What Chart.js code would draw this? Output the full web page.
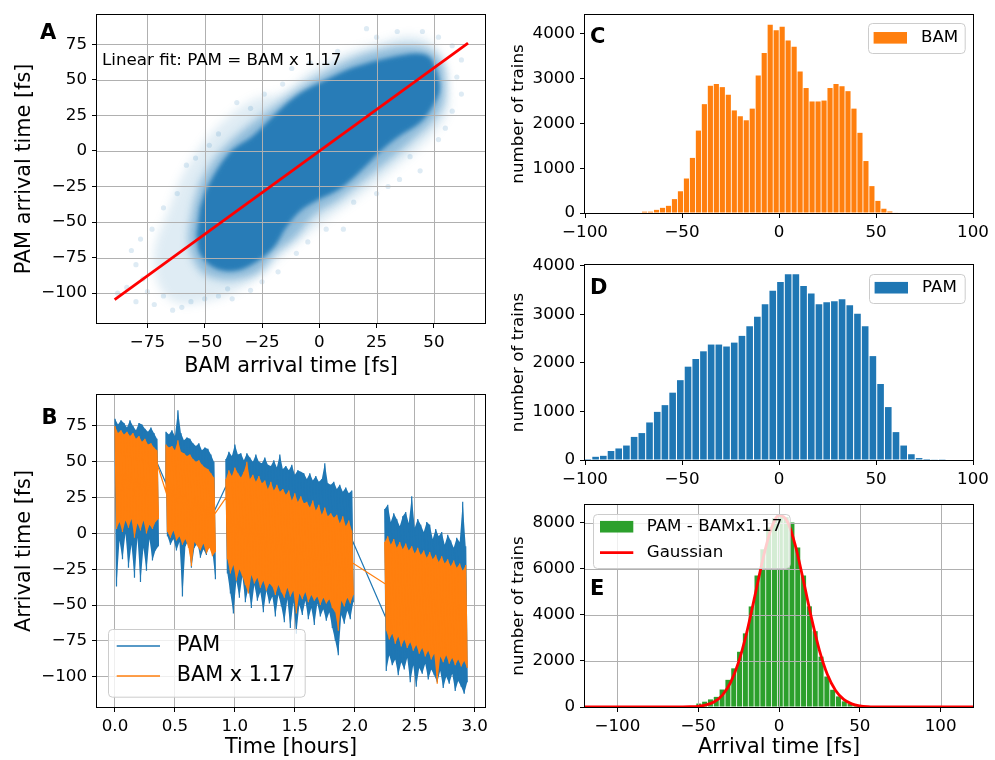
<!DOCTYPE html>
<html>
<head>
<meta charset="utf-8">
<script src="https://cdn.jsdelivr.net/npm/chart.js@4.4.1/dist/chart.umd.min.js"></script>
<style>
  body { margin: 0; background: #fff; width: 995px; height: 760px; position: relative; overflow: hidden; }
  canvas { position: absolute; }
</style>
</head>
<body>
<canvas id="pA" width="495" height="379" style="left:0;top:0"></canvas>
<canvas id="pB" width="495" height="380" style="left:0;top:380px"></canvas>
<canvas id="pC" width="495" height="250" style="left:500px;top:0"></canvas>
<canvas id="pD" width="495" height="240" style="left:500px;top:250px"></canvas>
<canvas id="pE" width="495" height="270" style="left:500px;top:490px"></canvas>
<script>
// --- A: PAM vs BAM scatter (cloud outlines)
const aTicksX = [-75, -50, -25, 0, 25, 50];
const aTicksY = [-100, -75, -50, -25, 0, 25, 50, 75];
const haloX = [-66, -72, -70, -62, -50, -38, -26, -17, -10, 5, 19, 33, 48, 56, 56, 54, 47, 38, 26, 12, -3, -16, -27.5, -39, -49, -58, -62];
const haloY = [-42, -70, -95, -107, -106, -100, -88, -74, -65, -46, -30, -12, 9, 27, 45, 64, 78, 81, 76, 69, 57, 41, 37, 25, 9, -12, -25];
const midX = [-55, -57, -52, -44, -35, -26, -19, -11, -2, 8, 20, 31, 41, 49, 54, 55, 53, 47, 38, 26, 13, 1, -10, -20, -30, -38, -46, -52];
const midY = [-38, -65, -84, -90, -90, -85, -72, -62, -45, -35, -20, -6, 8, 20, 33, 50, 64, 72, 74, 71, 64, 54, 43, 31, 19, 8, -6, -22];
const coreX = [-52, -49, -39, -29, -18.5, -8.5, 3, 12, 20.5, 32, 42.5, 48, 51, 52.5, 49.5, 44, 35, 28, 17.5, 9, 0.5, -8.5, -14.5, -20, -29, -37.5, -46, -52, -53.5];
const coreY = [-40, -26, -1, 10.5, 27, 40.5, 50, 57, 61.5, 66, 68.5, 66, 57, 43, 31.5, 20, 10.5, 1.5, -15, -26.5, -33.5, -42.5, -54, -68, -79.5, -84.5, -82, -72.5, -59];
const strayX = [-88, -84, -80, -77, -75, -72, -68, -64, -60, -56, -50, -44, -40, -80, -82, -78, -73, -68, -62, -58, -54, -48, -44, -36, -30, -24, -16, -12, -4, 8, 20.6, 25, 34, 45, 52, 58, 62, 60, 62, 58, 55, 52, 44, 39.6, 35, 30, 25, 15, 10.5, 3, -5, -10, -18, -25, -30, -38];
const strayY = [-100, -96, -106, -90, -99, -108, -102, -112, -110, -106, -104, -102, -97, -80, -70, -62, -55, -40, -30, -10, -5, 4, 12, 34, 30, 40, 47, 58, 62, 70, 86, 80, 84, 84, 80, 74, 64, 52, 40, 28, 16, 8, -14, -4, -20, -25, -30, -36, -55, -55, -64, -72, -85, -92, -98, -104];
const fitX = [-89.3, 64.9];
const fitY = [-104.5, 75.9];

// --- B: arrival time vs time, per run segment: upper / lower envelope of the noise
const bTicksX = [0, 0.5, 1, 1.5, 2, 2.5, 3];
const bTicksY = [-100, -75, -50, -25, 0, 25, 50, 75];
const bSegStart = [0, 0.425, 0.925, 2.25];
const bStep = 0.025;
const pamHi = [
  [80, 76, 79, 77, 74, 79, 75, 72, 77, 76, 73, 71, 74, 70, 66],
  [71, 69, 72, 68, 86, 70, 65, 67, 66, 63, 61, 63, 58, 60, 59, 55, 50],
  [52, 57, 54, 62, 55, 56, 51, 56, 53, 50, 55, 50, 49, 53, 48, 47, 51, 46, 55, 45, 47, 44, 48, 41, 44, 43, 42, 38, 42, 37, 40, 36, 38, 49, 35, 34, 36, 31, 34, 29, 32, 28, 30],
  [17, 20, 8, 14, 10, 5, 12, 15, 7, 26, 4, 10, 6, 1, 8, 6, -4, 3, -2, 1, -8, -1, -5, -10, -3, -6, 22, -9]
];
const pamLo = [
  [-37, -5, -18, 0, -24, -8, -31, -3, -34, -10, -26, -4, -19, -12, -9],
  [-2, -8, -4, -12, -6, -44, -9, -5, -24, -10, -7, -17, -11, -15, -8, -13, -32],
  [-28, -42, -56, -33, -45, -30, -48, -38, -52, -36, -47, -41, -55, -40, -49, -44, -58, -43, -51, -62, -46, -66, -48, -70, -50, -57, -47, -60, -52, -64, -49, -58, -53, -61, -55, -66, -75, -85, -57, -63, -54, -60, -48],
  [-96, -85, -92, -88, -99, -90, -95, -87, -104, -92, -107, -94, -98, -91, -102, -95, -99, -104, -96, -108, -100, -105, -98, -110, -103, -107, -112, -104]
];
const bamHi = [
  [75, 70, 72, 69, 71, 68, 70, 66, 68, 64, 66, 62, 63, 60, 58],
  [62, 60, 61, 58, 65, 57, 56, 54, 55, 52, 50, 51, 48, 46, 45, 42, 39],
  [38, 44, 40, 46, 42, 39, 43, 50, 38, 41, 36, 40, 35, 37, 31, 36, 30, 34, 29, 31, 27, 30, 23, 28, 22, 26, 21, 22, 18, 23, 16, 20, 13, 18, 12, 14, 11, 13, 7, 12, 5, 9, 2],
  [-6, -2, -8, -4, -10, -6, -11, -7, -12, -9, -14, -10, -15, -12, -17, -13, -18, -15, -20, -16, -21, -18, -23, -19, -24, -21, -26, -22]
];
const bamLo = [
  [3, 8, 1, 9, 4, 10, -3, 7, 2, 9, 0, 6, 3, 8, 10],
  [1, -3, 2, -5, -2, -8, -4, -10, -23, -6, -9, -12, -7, -14, -10, -16, -13],
  [-18, -28, -22, -33, -25, -30, -36, -42, -29, -35, -31, -38, -33, -40, -35, -37, -43, -36, -41, -45, -38, -44, -40, -56, -42, -46, -41, -48, -43, -47, -44, -50, -45, -49, -46, -52, -55, -68, -47, -51, -45, -49, -43],
  [-68, -74, -70, -77, -72, -79, -74, -80, -76, -82, -78, -84, -80, -86, -82, -88, -84, -105, -86, -90, -85, -91, -87, -92, -88, -93, -89, -94]
];
const bJoinT = [[0.353, 0.425], [0.828, 0.926], [1.98, 2.258]];
const pamJoin = [[49, 35], [15.5, 33], [-5, -58.7]];
const bamJoin = [[48, 29], [13, 25], [-20.5, -35.5]];

// --- C, D, E: histograms
const histTicksX = [-100, -50, 0, 50, 100];
const cTicksY = [0, 1000, 2000, 3000, 4000];
const cStart = -69.3, cWidth = 3.084;
const cCounts = [30, 30, 70, 115, 160, 310, 485, 770, 1230, 1840, 2430, 2840, 2880, 2810, 2640, 2290, 2160, 2070, 2330, 3070, 3570, 4200, 4080, 4160, 3850, 3710, 3160, 2790, 2490, 2490, 2510, 2790, 2880, 2830, 2720, 2330, 1790, 1160, 600, 270, 95, 35, 10];
const dTicksY = [0, 1000, 2000, 3000, 4000];
const dStart = -98.5, dWidth = 3.97;
const dCounts = [20, 66, 86, 185, 238, 298, 476, 555, 774, 992, 1131, 1388, 1646, 1924, 2083, 2241, 2380, 2380, 2340, 2420, 2559, 2757, 2955, 3213, 3490, 3669, 3828, 3828, 3590, 3431, 3213, 3253, 3273, 3312, 3193, 3015, 2757, 2142, 1567, 1091, 575, 298, 119, 40, 20, 7, 5];
const eTicksY = [0, 2000, 4000, 6000, 8000];
const eStart = -49.6, eWidth = 3.6;
const eCounts = [150, 230, 330, 440, 760, 1180, 1680, 2400, 3200, 4370, 5710, 6850, 7800, 8200, 8330, 8250, 8015, 6936, 5713, 4375, 3295, 2187, 1324, 748, 460, 245, 144, 86, 40];
const gaussX = [-120, -70, -60, -55, -50, -45, -40, -35, -30, -25, -20, -15, -10, -5, 0, 5, 10, 15, 20, 25, 30, 35, 40, 45, 50, 55, 60, 70, 120];
const gaussY = [0, 0, 3, 10, 31, 89, 226, 516, 1058, 1948, 3226, 4798, 6418, 7712, 8328, 8083, 7050, 5525, 3892, 2464, 1400, 718, 330, 136, 51, 17, 6, 0, 0];

const FONT = '"DejaVu Sans", sans-serif';
const TICK = 16.7, LABEL = 20.8;
const BLUE = '#1f77b4', ORANGE = '#ff7f0e', GREEN = '#2ca02c';

const pts = (xs, ys) => xs.map((x, i) => ({ x, y: ys[i] }));
const hist = (start, w, counts) => counts.map((v, i) => ({ x: start + i * w, y: v }));
const fmtNum = v => String(v).replace('-', '\u2212');

// closed outline of one run segment: upper envelope forward, lower envelope back
function band(k, hi, lo) {
  const t0 = bSegStart[k];
  const top = hi[k].map((v, j) => ({ x: t0 + j * bStep, y: v }));
  const bottom = lo[k].map((v, j) => ({ x: t0 + j * bStep + bStep / 2, y: v })).reverse();
  return top.concat(bottom);
}

// zig-zag between the envelopes, segments joined like one plotted line
function trace(hi, lo, join) {
  const out = [];
  bSegStart.forEach((t0, k) => {
    if (k > 0) {
      out.push({ x: bJoinT[k - 1][0], y: join[k - 1][0] });
      out.push({ x: bJoinT[k - 1][1], y: join[k - 1][1] });
    }
    hi[k].forEach((v, j) => {
      out.push({ x: t0 + j * bStep, y: v });
      out.push({ x: t0 + j * bStep + bStep / 2, y: lo[k][j] });
    });
  });
  return out;
}

function axis(o) {
  return {
    type: 'linear', min: o.min, max: o.max, offset: false,
    afterBuildTicks: ax => { ax.ticks = o.ticks.map(v => ({ value: v })); },
    afterFit: ax => {
      if (o.width != null) ax.width = o.width;
      if (o.height != null) ax.height = o.height;
    },
    border: { display: false },
    grid: { display: true, drawOnChartArea: !!o.grid, color: '#b0b0b0', lineWidth: 1, drawTicks: true, tickLength: 5, tickColor: '#000', tickWidth: 1, offset: false },
    ticks: { autoSkip: false, maxRotation: 0, padding: 5, color: '#000', font: { family: FONT, size: TICK }, callback: o.fmt || fmtNum },
    title: o.title
      ? { display: true, text: o.title, color: '#000', font: { family: FONT, size: o.titleSize || LABEL }, padding: o.titlePad || 0 }
      : { display: false }
  };
}

function drawGrid(chart) {
  const { ctx, chartArea: a, scales: { x, y } } = chart;
  ctx.save();
  ctx.strokeStyle = '#b0b0b0';
  ctx.lineWidth = 1;
  ctx.beginPath();
  x.ticks.forEach(t => {
    const px = Math.round(x.getPixelForValue(t.value)) + 0.5;
    ctx.moveTo(px, a.top); ctx.lineTo(px, a.bottom);
  });
  y.ticks.forEach(t => {
    const py = Math.round(y.getPixelForValue(t.value)) + 0.5;
    ctx.moveTo(a.left, py); ctx.lineTo(a.right, py);
  });
  ctx.stroke();
  ctx.restore();
}

function drawLegend(ctx, a, L) {
  const x0 = L.left != null ? a.left + L.left : a.right - L.right - L.w;
  const y0 = L.top != null ? a.top + L.top : a.bottom - L.bottom - L.h;
  ctx.fillStyle = 'rgba(255,255,255,0.8)';
  ctx.strokeStyle = '#cccccc';
  ctx.lineWidth = 1;
  ctx.beginPath();
  ctx.roundRect(Math.round(x0) + 0.5, Math.round(y0) + 0.5, L.w, L.h, 4);
  ctx.fill();
  ctx.stroke();
  ctx.font = L.size + 'px ' + FONT;
  ctx.textBaseline = 'middle';
  ctx.textAlign = 'left';
  L.items.forEach(it => {
    const cy = y0 + it.dy;
    if (it.kind === 'patch') {
      ctx.fillStyle = it.color;
      ctx.fillRect(x0 + L.hx, cy - L.ph / 2, L.hw, L.ph);
    } else {
      ctx.strokeStyle = it.color;
      ctx.lineWidth = it.lw;
      ctx.beginPath();
      ctx.moveTo(x0 + L.hx, cy);
      ctx.lineTo(x0 + L.hx + L.hw, cy);
      ctx.stroke();
    }
    ctx.fillStyle = '#000';
    ctx.fillText(it.text, x0 + L.tx, cy);
  });
}

// the filler paints a dataset's area in its own beforeDatasetDraw hook,
// so the soft-edge filter for dataset i+1 is set once dataset i is done
function blurFor(p, i) {
  const b = p.blur && p.blur[i];
  return b ? 'blur(' + b + 'px)' : 'none';
}

function decor(p) {
  return {
    id: 'decor',
    beforeDatasetsDraw(chart) {
      chart.ctx.filter = blurFor(p, 0);
    },
    afterDatasetDraw(chart, args) {
      chart.ctx.filter = 'none';
      if (p.gridAfter === args.index) drawGrid(chart);
      chart.ctx.filter = blurFor(p, args.index + 1);
    },
    afterDatasetsDraw(chart) {
      chart.ctx.filter = 'none';
    },
    afterDraw(chart) {
      const ctx = chart.ctx, a = chart.chartArea;
      ctx.save();
      ctx.strokeStyle = '#000';
      ctx.lineWidth = 1;
      ctx.strokeRect(Math.round(a.left) - 0.5, Math.round(a.top) - 0.5, Math.round(a.right - a.left) + 1, Math.round(a.bottom - a.top) + 1);
      if (p.legend) drawLegend(ctx, a, p.legend);
      (p.notes || []).forEach(n => {
        ctx.font = (n.bold ? 'bold ' : '') + n.size + 'px ' + FONT;
        ctx.fillStyle = '#000';
        ctx.textAlign = 'left';
        ctx.textBaseline = 'middle';
        const x = n.fromArea ? a.left + n.x : n.x;
        const y = n.fromArea ? a.top + n.y : n.y;
        ctx.fillText(n.text, x, y);
      });
      ctx.restore();
    }
  };
}

function baseOptions(padding, scales) {
  return {
    responsive: false, animation: false, devicePixelRatio: 1, events: [],
    layout: { padding },
    plugins: { legend: { display: false }, tooltip: { enabled: false } },
    scales
  };
}

Chart.defaults.font.family = FONT;

// Panel A
new Chart(document.getElementById('pA'), {
  type: 'scatter',
  data: {
    datasets: [
      { data: pts(haloX, haloY), showLine: true, fill: 'shape', tension: 0.35, borderWidth: 0, pointRadius: 0, backgroundColor: 'rgba(31,119,180,0.14)', order: 5 },
      { data: pts(midX, midY), showLine: true, fill: 'shape', tension: 0.35, borderWidth: 0, pointRadius: 0, backgroundColor: 'rgba(31,119,180,0.42)', order: 4 },
      { data: pts(coreX, coreY), showLine: true, fill: 'shape', tension: 0.35, borderWidth: 0, pointRadius: 0, backgroundColor: 'rgba(31,119,180,0.92)', order: 3 },
      { data: pts(strayX, strayY), pointRadius: 2.6, borderWidth: 0, backgroundColor: 'rgba(31,119,180,0.15)', order: 2 },
      { data: pts(fitX, fitY), showLine: true, borderColor: '#ff0000', borderWidth: 2.8, pointRadius: 0, order: 1 }
    ]
  },
  options: baseOptions({ top: 11, right: 10, left: 0, bottom: 0 }, {
    x: axis({ min: -97, max: 72.3, ticks: aTicksX, height: 56, title: 'BAM arrival time [fs]' }),
    y: axis({ min: -121, max: 95.6, ticks: aTicksY, width: 97, title: 'PAM arrival time [fs]', titlePad: { top: 12 } })
  }),
  plugins: [decor({
    gridAfter: 3,
    blur: { 0: 5, 1: 4, 2: 2 },
    notes: [
      { text: 'A', x: 40, y: 34, size: 21, bold: true },
      { text: 'Linear fit: PAM = BAM x 1.17', x: 5, y: 46, size: TICK, fromArea: true }
    ]
  })]
});

// Panel B: filled envelopes per run plus the thin traced line with its joins
const bDatasets = [];
bSegStart.forEach((t0, k) => {
  bDatasets.push({ data: band(k, pamHi, pamLo), showLine: true, fill: 'shape', borderWidth: 0, pointRadius: 0, backgroundColor: BLUE, order: 4 });
  bDatasets.push({ data: band(k, bamHi, bamLo), showLine: true, fill: 'shape', borderWidth: 0, pointRadius: 0, backgroundColor: ORANGE, order: 2 });
});
bDatasets.push({ data: trace(pamHi, pamLo, pamJoin), showLine: true, borderColor: BLUE, borderWidth: 1.2, tension: 0.000001, pointRadius: 0, order: 3 });
bDatasets.push({ data: trace(bamHi, bamLo, bamJoin), showLine: true, borderColor: ORANGE, borderWidth: 1.2, tension: 0.000001, pointRadius: 0, order: 1 });

new Chart(document.getElementById('pB'), {
  type: 'scatter',
  data: { datasets: bDatasets },
  options: baseOptions({ top: 13, right: 10, left: 0, bottom: 0 }, {
    x: axis({ min: -0.15, max: 3.086, ticks: bTicksX, height: 53, grid: true, title: 'Time [hours]', fmt: v => v.toFixed(1) }),
    y: axis({ min: -121.2, max: 96.6, ticks: bTicksY, width: 97, grid: true, title: 'Arrival time [fs]', titlePad: { top: 12 } })
  }),
  plugins: [decor({
    legend: {
      left: 11.3, bottom: 10.7, w: 196.7, h: 67.7, size: LABEL, hx: 8.4, hw: 43.3, tx: 68.4,
      items: [
        { kind: 'line', color: BLUE, lw: 1.5, text: 'PAM', dy: 17.5 },
        { kind: 'line', color: ORANGE, lw: 1.5, text: 'BAM x 1.17', dy: 47.5 }
      ]
    },
    notes: [{ text: 'B', x: 41.5, y: 38.5, size: 21, bold: true }]
  })]
});

function histChart(id, cfg) {
  const datasets = [{ type: 'bar', data: cfg.bars, backgroundColor: cfg.color, borderWidth: 0, barPercentage: 0.86, categoryPercentage: 1, order: 2 }];
  if (cfg.line) datasets.push(cfg.line);
  return new Chart(document.getElementById(id), {
    type: 'bar',
    data: { datasets },
    options: baseOptions({ top: cfg.top, right: 22, left: 0, bottom: 0 }, {
      x: axis({ min: cfg.xmin, max: cfg.xmax, ticks: histTicksX, height: cfg.xh, title: cfg.xtitle }),
      y: axis({ min: 0, max: cfg.ymax, ticks: cfg.yticks, width: 85, title: 'number of trains', titleSize: TICK, titlePad: { top: 8.3 } })
    }),
    plugins: [decor({ gridAfter: cfg.gridAfter, legend: cfg.legend, notes: [{ text: cfg.letter, x: 5, y: cfg.letterY, size: 21, bold: true, fromArea: true }] })]
  });
}

histChart('pC', {
  bars: hist(cStart, cWidth, cCounts), color: ORANGE, top: 10, xh: 37, xmin: -100, xmax: 100, ymax: 4420, yticks: cTicksY,
  letter: 'C', letterY: 23,
  legend: { right: 8.7, top: 8.3, w: 96.7, h: 30, size: TICK, hx: 6, hw: 33.4, ph: 11.6, tx: 53.4, items: [{ kind: 'patch', color: ORANGE, text: 'BAM', dy: 14.5 }] }
});

histChart('pD', {
  bars: hist(dStart, dWidth, dCounts), color: BLUE, top: 7, xh: 30, xmin: -100, xmax: 100, ymax: 4020, yticks: dTicksY,
  letter: 'D', letterY: 23.5,
  legend: { right: 8.7, top: 8.7, w: 95.7, h: 29, size: TICK, hx: 6, hw: 33.4, ph: 11.6, tx: 53.4, items: [{ kind: 'patch', color: BLUE, text: 'PAM', dy: 14 }] }
});

histChart('pE', {
  bars: hist(eStart, eWidth, eCounts), color: GREEN, top: 14, xh: 53, xmin: -120, xmax: 120, ymax: 8777, yticks: eTicksY,
  xtitle: 'Arrival time [fs]', gridAfter: 0,
  line: { type: 'line', data: pts(gaussX, gaussY), borderColor: '#ff0000', borderWidth: 2.8, pointRadius: 0, cubicInterpolationMode: 'monotone', order: 1 },
  letter: 'E', letterY: 85,
  legend: {
    left: 8.3, top: 8.7, w: 196.7, h: 54, size: TICK, hx: 6.7, hw: 33.3, ph: 11.6, tx: 53.4,
    items: [
      { kind: 'patch', color: GREEN, text: 'PAM - BAMx1.17', dy: 13 },
      { kind: 'line', color: '#ff0000', lw: 2.8, text: 'Gaussian', dy: 39 }
    ]
  }
});
</script>
</body>
</html>
